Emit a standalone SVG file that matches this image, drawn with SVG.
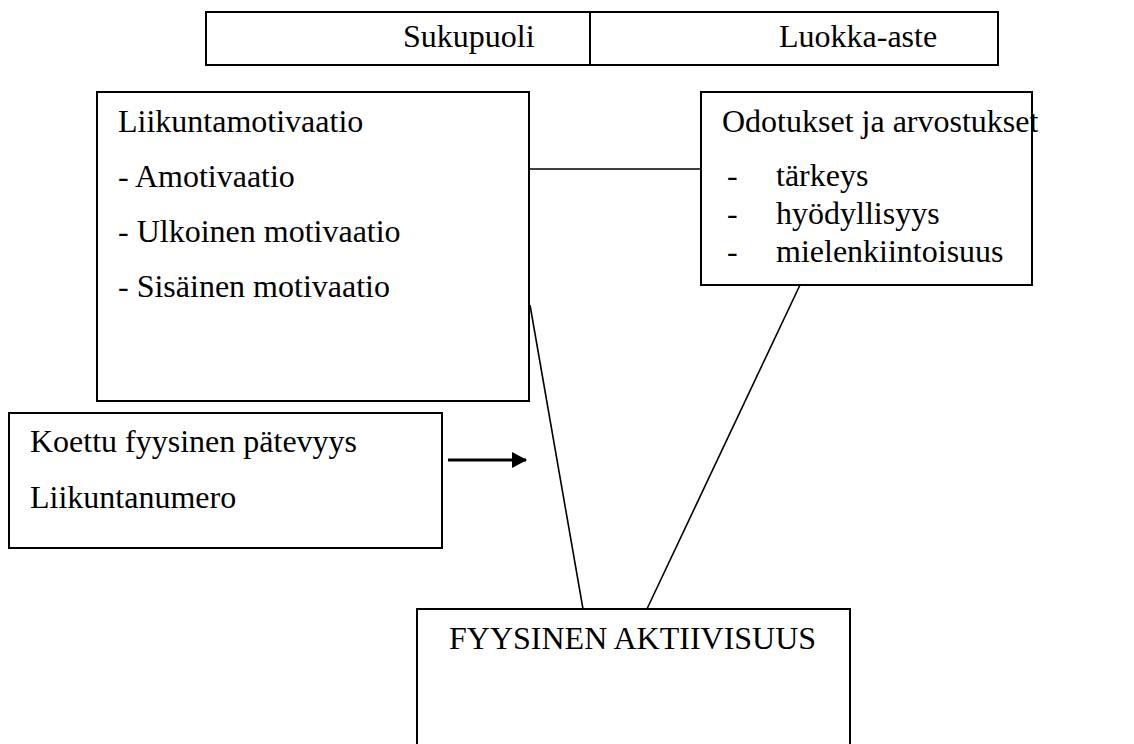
<svg xmlns="http://www.w3.org/2000/svg" width="1134" height="744" viewBox="0 0 1134 744">
<style>
.box{fill:#fff;stroke:#000;stroke-width:2}
.t{font-family:"Liberation Serif","Times New Roman",serif;font-size:32px;fill:#000}
.c{stroke:#000;stroke-width:1.6;fill:none}
</style>
<defs>
<marker id="ah" markerWidth="15" markerHeight="16" refX="14" refY="8" orient="auto" markerUnits="userSpaceOnUse">
<path d="M0,0 L15,8 L0,16 Z" fill="#000"/>
</marker>
</defs>
<rect width="1134" height="744" fill="#fff"/>
<g id="connectors">
<line class="c" x1="529" y1="169" x2="701" y2="169"/>
<line class="c" x1="530" y1="305" x2="583" y2="609"/>
<line class="c" x1="800" y1="285" x2="646" y2="611"/>
<line class="c" x1="448" y1="460" x2="526" y2="460" style="stroke-width:3" marker-end="url(#ah)"/>
</g>
<g id="top">
<rect class="box" x="206" y="12" width="792" height="53"/>
<line class="c" x1="590" y1="12" x2="590" y2="65" style="stroke-width:2"/>
<text class="t" x="403" y="47">Sukupuoli</text>
<text class="t" x="779" y="47">Luokka-aste</text>
</g>
<g id="motivaatio">
<rect class="box" x="97" y="92" width="432" height="309"/>
<text class="t" x="118" y="132">Liikuntamotivaatio</text>
<text class="t" x="118" y="187">- Amotivaatio</text>
<text class="t" x="118" y="242">- Ulkoinen motivaatio</text>
<text class="t" x="118" y="297">- Sisäinen motivaatio</text>
</g>
<g id="odotukset">
<rect class="box" x="701" y="92" width="331" height="193"/>
<text class="t" x="722" y="132">Odotukset ja arvostukset</text>
<text class="t" x="727" y="186">-</text>
<text class="t" x="776" y="186">tärkeys</text>
<text class="t" x="727" y="224">-</text>
<text class="t" x="776" y="224">hyödyllisyys</text>
<text class="t" x="727" y="262">-</text>
<text class="t" x="776" y="262">mielenkiintoisuus</text>
</g>
<g id="koettu">
<rect class="box" x="9" y="413" width="433" height="135"/>
<text class="t" x="30" y="452">Koettu fyysinen pätevyys</text>
<text class="t" x="30" y="508">Liikuntanumero</text>
</g>
<g id="aktiivisuus">
<rect class="box" x="417" y="609" width="433" height="150"/>
<text class="t" x="449" y="649">FYYSINEN AKTIIVISUUS</text>
</g>
</svg>
